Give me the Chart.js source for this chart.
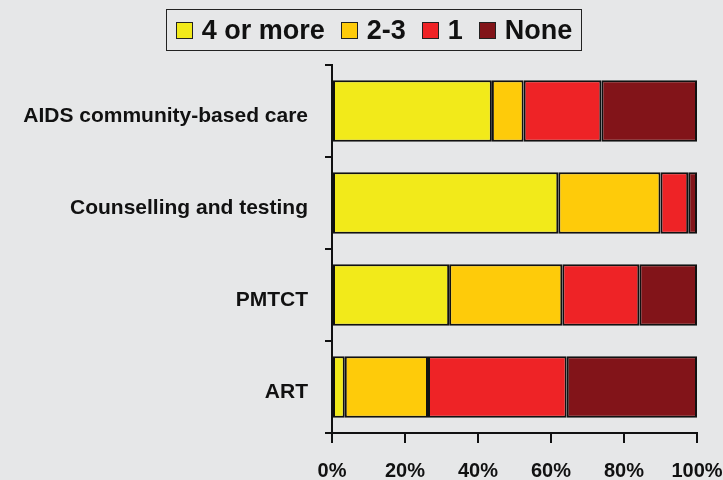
<!DOCTYPE html>
<html>
<head>
<meta charset="utf-8">
<script src="https://cdn.jsdelivr.net/npm/chart.js@4/dist/chart.umd.min.js"></script>
<style>
  html, body { margin: 0; padding: 0; background: #e6e7e8; }
  #wrap { position: relative; width: 723px; height: 480px; }
  #legend {
    position: absolute; left: 166px; top: 9px; width: 416px; height: 42px;
    border: 1px solid #222; box-sizing: border-box;
    display: flex; align-items: center; justify-content: center;
    font: bold 27px "Liberation Sans", Arial, sans-serif; color: #111;
  }
  #legend .item { display: flex; align-items: center; margin: 0 8px; }
  #legend .sw { width: 15px; height: 15px; border: 1.5px solid #222; margin-right: 9px; }
</style>
</head>
<body>
<div id="wrap">
  <canvas id="chart" width="723" height="480"></canvas>
  <div id="legend"></div>
</div>
<script>
// categories (top to bottom)
const categories = ['AIDS community-based care', 'Counselling and testing', 'PMTCT', 'ART'];

// series values, % of respondents
const seriesNames = ['4 or more', '2-3', '1', 'None'];
const fourOrMore = [43.8, 62.0, 32.1, 3.5];
const twoThree   = [8.7, 28.0, 31.0, 22.8];
const one        = [21.3, 7.6, 21.1, 38.0];
const none       = [26.2, 2.4, 15.8, 35.7];

// x-axis ticks
const xTicks = [0, 20, 40, 60, 80, 100];

const colors = ['#f2ea1a', '#fecb0a', '#ee2326', '#821419'];
const seriesData = [fourOrMore, twoThree, one, none];

const datasets = seriesNames.map((name, i) => ({
    label: name,
    data: seriesData[i],
    backgroundColor: colors[i],
    borderColor: '#111',
    borderWidth: 2,
    borderSkipped: false,
    categoryPercentage: 1,
    barPercentage: 0.67
}));

// html legend with framed box
const legendEl = document.getElementById('legend');
seriesNames.forEach((name, i) => {
    const item = document.createElement('div');
    item.className = 'item';
    const sw = document.createElement('span');
    sw.className = 'sw';
    sw.style.background = colors[i];
    const txt = document.createElement('span');
    txt.textContent = name;
    item.appendChild(sw);
    item.appendChild(txt);
    legendEl.appendChild(item);
});

const font = { family: "'Liberation Sans', Arial, sans-serif", weight: 'bold' };

new Chart(document.getElementById('chart'), {
    type: 'bar',
    data: { labels: categories, datasets },
    options: {
        indexAxis: 'y',
        responsive: false,
        animation: false,
        layout: { padding: { top: 65, right: 26, left: 0, bottom: 0 } },
        plugins: { legend: { display: false }, tooltip: { enabled: false } },
        scales: {
            x: {
                stacked: true,
                min: 0,
                max: 100,
                afterBuildTicks: s => { s.ticks = xTicks.map(v => ({ value: v })); },
                afterFit: s => { s.height = 47; s.paddingLeft = 0; s.paddingRight = 0; },
                grid: { drawOnChartArea: false, color: '#111', lineWidth: 2, tickLength: 10 },
                border: { color: '#111', width: 2 },
                ticks: {
                    color: '#111',
                    padding: 16,
                    maxRotation: 0,
                    font: { ...font, size: 20 },
                    callback: v => v + '%'
                }
            },
            y: {
                stacked: true,
                afterFit: s => { s.width = 332; },
                grid: { drawOnChartArea: false, color: '#111', lineWidth: 2, tickLength: 7 },
                border: { color: '#111', width: 2 },
                ticks: {
                    color: '#111',
                    padding: 17,
                    labelOffset: 5,
                    font: { ...font, size: 21 }
                }
            }
        }
    }
});
</script>
</body>
</html>
